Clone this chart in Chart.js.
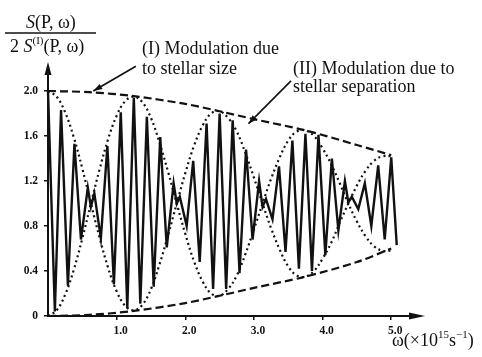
<!DOCTYPE html>
<html>
<head>
<meta charset="utf-8">
<script src="https://cdn.jsdelivr.net/npm/chart.js@4"></script>
<style>
  html, body { margin: 0; padding: 0; background: #fff; }
  canvas { display: block; }
</style>
</head>
<body>
<canvas id="chart" width="482" height="357"></canvas>
<script>
// Fast signal S(P,w)/2S1(P,w): peaks and troughs
const omega = [0.00, 0.10, 0.19, 0.29, 0.385, 0.48, 0.58, 0.625, 0.675, 0.77, 0.865, 0.96, 1.06, 1.155,
    1.25, 1.345, 1.44, 1.54, 1.635, 1.73, 1.83, 1.875, 1.92, 2.02, 2.115, 2.21, 2.31, 2.405,
    2.50, 2.595, 2.69, 2.79, 2.885, 2.98, 3.075, 3.125, 3.175, 3.27, 3.365, 3.46, 3.56, 3.655,
    3.75, 3.845, 3.94, 4.04, 4.135, 4.23, 4.325, 4.375, 4.425, 4.52, 4.615, 4.71, 4.81, 4.905,
    5.00, 5.08];
const signal = [2.00, 0.04, 1.83, 0.27, 1.53, 0.68, 1.14, 0.97, 1.09, 0.69, 1.51, 0.28, 1.81, 0.07,
    1.94, 0.11, 1.77, 0.26, 1.59, 0.61, 1.18, 1.00, 1.06, 0.80, 1.38, 0.48, 1.71, 0.24,
    1.80, 0.24, 1.74, 0.38, 1.48, 0.68, 1.20, 0.97, 1.04, 0.86, 1.33, 0.57, 1.56, 0.42,
    1.62, 0.40, 1.61, 0.54, 1.40, 0.76, 1.20, 1.01, 1.06, 0.95, 1.18, 0.80, 1.34, 0.68,
    1.41, 0.63];

// (II) separation envelope, dotted: two crossing curves
const envOmega = [0, 0.125, 0.25, 0.375, 0.5, 0.625, 0.75, 0.875, 1.0, 1.125,
    1.25, 1.375, 1.5, 1.625, 1.75, 1.875, 2.0, 2.125, 2.25, 2.375,
    2.5, 2.625, 2.75, 2.875, 3.0, 3.125, 3.25, 3.375, 3.5, 3.625,
    3.75, 3.875, 4.0, 4.125, 4.25, 4.375, 4.5, 4.625, 4.75, 4.875, 5.0];
const envA = [2.00, 1.95, 1.81, 1.59, 1.31, 1.00, 0.70, 0.43, 0.22, 0.09,
    0.05, 0.10, 0.24, 0.46, 0.72, 1.00, 1.27, 1.51, 1.69, 1.80,
    1.82, 1.76, 1.64, 1.45, 1.23, 1.00, 0.78, 0.59, 0.44, 0.36,
    0.35, 0.40, 0.51, 0.65, 0.83, 1.00, 1.16, 1.29, 1.38, 1.42, 1.42];
const envB = [0.00, 0.05, 0.19, 0.41, 0.69, 1.00, 1.30, 1.57, 1.78, 1.91,
    1.95, 1.90, 1.76, 1.54, 1.28, 1.00, 0.73, 0.49, 0.31, 0.20,
    0.18, 0.24, 0.36, 0.55, 0.77, 1.00, 1.22, 1.41, 1.56, 1.64,
    1.65, 1.60, 1.49, 1.35, 1.18, 1.00, 0.84, 0.71, 0.62, 0.58, 0.58];

// (I) stellar size envelope, dashed
const sizeOmega = [0, 0.6, 1.25, 2.0, 2.5, 3.0, 3.75, 4.5, 5.0];
const sizeUpper = [2.00, 1.99, 1.955, 1.885, 1.82, 1.75, 1.65, 1.52, 1.43];
const sizeLower = [0.00, 0.01, 0.045, 0.115, 0.18, 0.25, 0.35, 0.48, 0.60];

// Axis ticks
const xTicks = [1, 2, 3, 4, 5];
const yTicks = [0, 0.4, 0.8, 1.2, 1.6, 2.0];

const ink = "#111";
const serif = '"Liberation Serif", "DejaVu Serif", serif';

function toPoints(xs, ys) {
    return xs.map((x, i) => ({ x: x, y: ys[i] }));
}

// Filled arrow head at (tx, ty) coming from (fx, fy)
function arrowHead(ctx, fx, fy, tx, ty, len, half) {
    const a = Math.atan2(ty - fy, tx - fx);
    ctx.beginPath();
    ctx.moveTo(tx, ty);
    ctx.lineTo(tx - len * Math.cos(a) + half * Math.sin(a), ty - len * Math.sin(a) - half * Math.cos(a));
    ctx.lineTo(tx - len * Math.cos(a) - half * Math.sin(a), ty - len * Math.sin(a) + half * Math.cos(a));
    ctx.closePath();
    ctx.fill();
}

// Write a row of pieces [text, font, dy] one after another
function textRow(ctx, x, y, pieces) {
    pieces.forEach(([str, font, dy]) => {
        ctx.font = font;
        ctx.fillText(str, x, y + (dy || 0));
        x += ctx.measureText(str).width;
    });
}

const notes = {
    id: "notes",
    afterDraw(chart) {
        const { ctx, chartArea: area, scales: { x, y } } = chart;
        const x0 = x.getPixelForValue(0);
        const y0 = y.getPixelForValue(0);
        ctx.save();
        ctx.strokeStyle = ink;
        ctx.fillStyle = ink;

        // axes with arrows
        ctx.lineWidth = 2;
        ctx.beginPath();
        ctx.moveTo(x0, y0 + 1);
        ctx.lineTo(x0, area.top + 8);
        ctx.moveTo(x0 - 1, y0);
        ctx.lineTo(area.right - 10, y0);
        ctx.stroke();
        arrowHead(ctx, x0, y0, x0, area.top, 13, 3.5);
        arrowHead(ctx, x0, y0, area.right - 4, y0, 16, 3.5);

        // pointer arrows
        ctx.lineWidth = 1.6;
        [[1.28, 2.22, 0.66, 2.00], [3.54, 2.09, 2.92, 1.71]].forEach(([a, b, c, d]) => {
            const fx = x.getPixelForValue(a), fy = y.getPixelForValue(b);
            const tx = x.getPixelForValue(c), ty = y.getPixelForValue(d);
            ctx.beginPath();
            ctx.moveTo(fx, fy);
            ctx.lineTo(tx, ty);
            ctx.stroke();
            arrowHead(ctx, fx, fy, tx, ty, 9, 3);
        });

        // labels
        const big = `18px ${serif}`;
        const bigIt = `italic 18px ${serif}`;
        const small = `11px ${serif}`;
        ctx.textBaseline = "alphabetic";
        textRow(ctx, 142, 54, [["(I) Modulation due", big]]);
        textRow(ctx, 142, 74, [["to stellar size", big]]);
        textRow(ctx, 293, 74, [["(II) Modulation due to", big]]);
        textRow(ctx, 293, 92, [["stellar separation", big]]);

        // y title as a fraction
        textRow(ctx, 26, 28, [["S", bigIt], ["(P, ω)", big]]);
        ctx.lineWidth = 1.3;
        ctx.beginPath();
        ctx.moveTo(5, 33);
        ctx.lineTo(96, 33);
        ctx.stroke();
        textRow(ctx, 10, 52, [["2 ", big], ["S", bigIt], ["(I)", small, -8], ["(P, ω)", big]]);

        // x title
        textRow(ctx, 392, 346, [["ω(×10", big], ["15", small, -8], ["s", big], ["−1", small, -8], [")", big]]);
        ctx.restore();
    }
};

const tickFont = { family: serif, size: 11.5, weight: "bold" };

new Chart(document.getElementById("chart"), {
    type: "line",
    data: {
        datasets: [
            { data: toPoints(omega, signal), borderColor: ink, borderWidth: 2.4, tension: 0, order: 0 },
            { data: toPoints(envOmega, envA), borderColor: ink, borderWidth: 2.2, borderDash: [2, 3.2], tension: 0.4, order: 1 },
            { data: toPoints(envOmega, envB), borderColor: ink, borderWidth: 2.2, borderDash: [2, 3.2], tension: 0.4, order: 1 },
            { data: toPoints(sizeOmega, sizeUpper), borderColor: ink, borderWidth: 2.2, borderDash: [8, 4], tension: 0.3, order: 2 },
            { data: toPoints(sizeOmega, sizeLower), borderColor: ink, borderWidth: 2.2, borderDash: [8, 4], tension: 0.3, order: 2 }
        ]
    },
    options: {
        responsive: false,
        animation: false,
        devicePixelRatio: 1,
        clip: false,
        layout: { padding: { top: 62, right: 53, left: 0, bottom: 0 } },
        elements: { point: { radius: 0 } },
        plugins: { legend: { display: false }, tooltip: { enabled: false } },
        scales: {
            x: {
                type: "linear",
                min: 0,
                max: 5.55,
                afterBuildTicks: s => { s.ticks = xTicks.map(v => ({ value: v })); },
                afterFit: s => { s.height = 41; },
                border: { display: false },
                grid: { drawOnChartArea: false, tickLength: 4, color: ink, lineWidth: 1.5 },
                ticks: { color: ink, font: tickFont, padding: 4, labelOffset: 4, maxRotation: 0, autoSkip: false,
                    callback: v => v.toFixed(1) }
            },
            y: {
                type: "linear",
                min: 0,
                max: 2.258,
                afterBuildTicks: s => { s.ticks = yTicks.map(v => ({ value: v })); },
                afterFit: s => { s.width = 48; },
                border: { display: false },
                grid: { drawOnChartArea: false, tickLength: 4, color: ink, lineWidth: 1.5 },
                ticks: { color: ink, font: tickFont, padding: 6, autoSkip: false,
                    callback: v => v === 0 ? "0" : v.toFixed(1) }
            }
        }
    },
    plugins: [notes]
});
</script>
</body>
</html>
